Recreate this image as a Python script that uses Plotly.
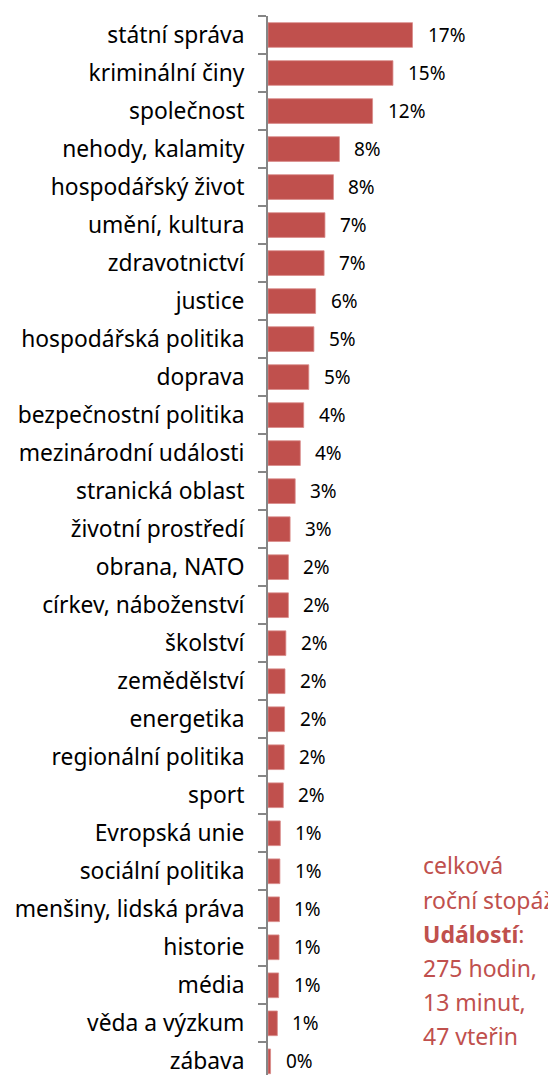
import plotly.graph_objects as go

categories = [
    "státní správa", "kriminální činy", "společnost", "nehody, kalamity",
    "hospodářský život", "umění, kultura", "zdravotnictví", "justice",
    "hospodářská politika", "doprava", "bezpečnostní politika",
    "mezinárodní události", "stranická oblast", "životní prostředí",
    "obrana, NATO", "církev, náboženství", "školství", "zemědělství",
    "energetika", "regionální politika", "sport", "Evropská unie",
    "sociální politika", "menšiny, lidská práva", "historie", "média",
    "věda a výzkum", "zábava",
]
values = [17.0, 14.7, 12.3, 8.4, 7.7, 6.7, 6.6, 5.6, 5.4, 4.8, 4.2, 3.8,
          3.2, 2.6, 2.4, 2.4, 2.1, 2.0, 1.95, 1.9, 1.8, 1.45, 1.4, 1.35,
          1.3, 1.25, 1.1, 0.3]
note_lines = ["celková", "roční stopáž", "<b>Událostí</b>:", "275 hodin,",
              "13 minut,", "47 vteřin"]

RED = "#C0504D"
GRAY = "#868686"
FONT = "Noto Sans"

# page body adds an 8px offset
OFF = 8
W, H = 556 - OFF, 1075 - OFF
ml, mr, mt, mb = 268 - OFF, 10, 15.5 - OFF, 0
pw = W - ml - mr
ph = H - mt - mb
px_per_pct = 8.5
row_px = 38.03
visible_rows = ph / row_px

fig = go.Figure()
fig.add_trace(go.Bar(
    x=values, y=categories, orientation="h",
    marker=dict(color=RED, line=dict(color="#D98C8A", width=0.8)),
    width=0.65,
))

annotations = []
for c, v in zip(categories, values):
    annotations.append(dict(
        x=v, y=c, xref="x", yref="y", text=f"{v:.0f}%", showarrow=False,
        xanchor="left", xshift=13, font=dict(family=FONT, size=19, color="black"),
    ))

note_py = [865, 900, 934, 968, 1002, 1036]
for line, py in zip(note_lines, note_py):
    annotations.append(dict(
        x=(421 - 268) / pw, y=(1075 - py) / ph, xref="paper", yref="paper",
        text=line, showarrow=False, xanchor="left", yanchor="middle",
        font=dict(family=FONT, size=23, color=RED),
    ))

fig.update_layout(
    width=W, height=H,
    margin=dict(l=ml, r=mr, t=mt, b=mb, pad=0, autoexpand=False),
    paper_bgcolor="white", plot_bgcolor="white",
    showlegend=False,
    annotations=annotations,
    xaxis=dict(range=[0, pw / px_per_pct], visible=False, fixedrange=True,
               automargin=False),
    yaxis=dict(
        type="category", automargin=False,
        categoryorder="array", categoryarray=categories,
        range=[visible_rows - 0.5, -0.5],
        showline=True, linecolor=GRAY, linewidth=2,
        ticks="outside", ticklen=8, tickcolor=GRAY, tickwidth=1.5,
        tickson="boundaries", showgrid=False, ticklabelstandoff=17,
        tickfont=dict(family=FONT, size=22.8, color="black"),
    ),
)

fig.write_html("out.html")
